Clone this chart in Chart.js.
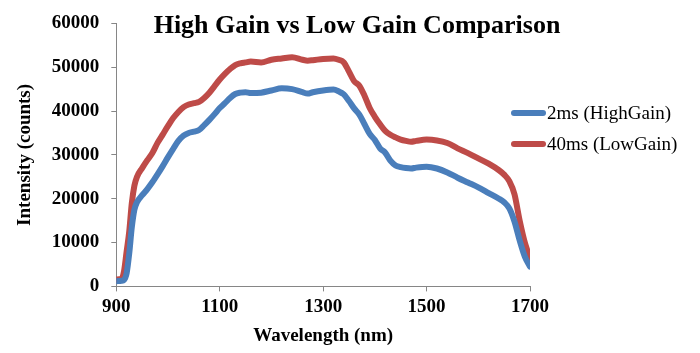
<!DOCTYPE html>
<html>
<head>
<meta charset="utf-8">
<script src="https://cdn.jsdelivr.net/npm/chart.js@4"></script>
<style>
  html, body { margin: 0; padding: 0; background: #fff; }
  #chart { display: block; }
</style>
</head>
<body>
<canvas id="chart" width="700" height="353"></canvas>
<script>
// wavelengths (nm) and intensity readings (counts)
const wavelengths = [900, 910, 915, 920, 925, 930, 935, 940, 950, 960, 970, 980, 990, 1000,
  1010, 1020, 1030, 1040, 1050, 1060, 1070, 1080, 1090, 1100, 1110, 1120, 1130, 1140, 1150,
  1160, 1180, 1200, 1220, 1240, 1260, 1270, 1280, 1300, 1320, 1330, 1340, 1350, 1360, 1370,
  1380, 1390, 1400, 1410, 1420, 1430, 1440, 1450, 1460, 1470, 1480, 1500, 1520, 1540, 1560,
  1580, 1600, 1620, 1640, 1650, 1660, 1670, 1680, 1690, 1700];

const highGain = [1200, 1300, 1500, 3000, 7500, 13500, 17500, 19200, 20800, 22200, 23800, 25600,
  27500, 29500, 31400, 33200, 34400, 35000, 35300, 35700, 36800, 38000, 39300, 40700, 41800,
  43000, 43900, 44200, 44300, 44100, 44200, 44700, 45200, 45000, 44300, 44000, 44300, 44700,
  44900, 44500, 43800, 42300, 40600, 39200, 37000, 34800, 33400, 31500, 30500, 28700, 27600,
  27200, 27000, 26900, 27100, 27300, 26900, 26000, 24800, 23700, 22600, 21300, 20000, 19200,
  17800, 14800, 10500, 6800, 4500];

const lowGain = [1600, 1700, 3500, 8000, 12500, 19000, 23000, 25000, 27000, 28800, 30500, 32800,
  34700, 36600, 38400, 39800, 40900, 41500, 41800, 42100, 43000, 44200, 45700, 47200, 48500,
  49600, 50500, 50900, 51100, 51300, 51100, 51700, 52000, 52300, 51700, 51500, 51600, 51900,
  52000, 51700, 51100, 49000, 46800, 45800, 43500, 40700, 38700, 37000, 35500, 34600, 34000,
  33500, 33200, 33000, 33200, 33500, 33300, 32700, 31500, 30400, 29200, 28000, 26500, 25500,
  24000, 21000, 15000, 10000, 6500];

const seriesNames = ['2ms (HighGain)', '40ms (LowGain)'];
const seriesColors = ['#4a7ebb', '#be4b48'];
const xTicks = [900, 1100, 1300, 1500, 1700];
const yTicks = [0, 10000, 20000, 30000, 40000, 50000, 60000];

const serif = '"Liberation Serif", "Times New Roman", serif';
const axisGray = '#868686';

const toPoints = vals => wavelengths.map((w, i) => ({ x: w, y: vals[i] }));

// title is drawn over the top of the plot, like the original
const titlePlugin = {
  id: 'overTitle',
  afterDraw(chart) {
    const ctx = chart.ctx;
    ctx.save();
    ctx.font = 'bold 26px ' + serif;
    ctx.fillStyle = '#000';
    ctx.textAlign = 'center';
    ctx.textBaseline = 'middle';
    ctx.fillText('High Gain vs Low Gain Comparison', 357, 26);
    ctx.restore();
  }
};

// legend on the right side
const sideLegend = {
  id: 'sideLegend',
  afterDraw(chart) {
    const ctx = chart.ctx;
    ctx.save();
    ctx.font = '19px ' + serif;
    ctx.textBaseline = 'middle';
    chart.data.datasets.forEach((ds, i) => {
      const y = 113 + i * 31;
      ctx.strokeStyle = ds.borderColor;
      ctx.lineWidth = 6;
      ctx.lineCap = 'round';
      ctx.beginPath();
      ctx.moveTo(514, y);
      ctx.lineTo(543, y);
      ctx.stroke();
      ctx.fillStyle = '#000';
      ctx.fillText(ds.label, 547, y + 1);
    });
    ctx.restore();
  }
};

const tickFont = { family: serif, size: 19, weight: 'bold' };

new Chart(document.getElementById('chart'), {
  type: 'line',
  plugins: [titlePlugin, sideLegend],
  data: {
    datasets: [
      {
        label: seriesNames[0],
        data: toPoints(highGain),
        borderColor: seriesColors[0],
        backgroundColor: seriesColors[0],
        borderWidth: 6,
        pointRadius: 0,
        cubicInterpolationMode: 'monotone',
        borderCapStyle: 'round'
      },
      {
        label: seriesNames[1],
        data: toPoints(lowGain),
        borderColor: seriesColors[1],
        backgroundColor: seriesColors[1],
        borderWidth: 6,
        pointRadius: 0,
        cubicInterpolationMode: 'monotone',
        borderCapStyle: 'round'
      }
    ]
  },
  options: {
    responsive: false,
    animation: false,
    layout: { padding: { left: 14, right: 170, top: 9, bottom: 6 } },
    plugins: {
      legend: { display: false },
      tooltip: { enabled: false },
      title: { display: false }
    },
    scales: {
      x: {
        type: 'linear',
        min: 900,
        max: 1700,
        afterBuildTicks: axis => { axis.ticks = xTicks.map(v => ({ value: v })); },
        border: { color: axisGray, width: 1 },
        grid: { drawOnChartArea: false, color: axisGray, tickLength: 5 },
        ticks: { color: '#000', font: tickFont, padding: 4, maxRotation: 0, callback: v => String(v) },
        title: { display: true, text: 'Wavelength (nm)', color: '#000', font: tickFont, padding: { top: 2, bottom: 0 } }
      },
      y: {
        min: 0,
        max: 60000,
        afterBuildTicks: axis => { axis.ticks = yTicks.map(v => ({ value: v })); },
        border: { color: axisGray, width: 1 },
        grid: { drawOnChartArea: false, color: axisGray, tickLength: 5 },
        ticks: { color: '#000', font: tickFont, padding: 12, callback: v => String(v) },
        title: { display: true, text: 'Intensity (counts)', color: '#000', font: tickFont, padding: { top: 0, bottom: 3 } }
      }
    }
  }
});
</script>
</body>
</html>
